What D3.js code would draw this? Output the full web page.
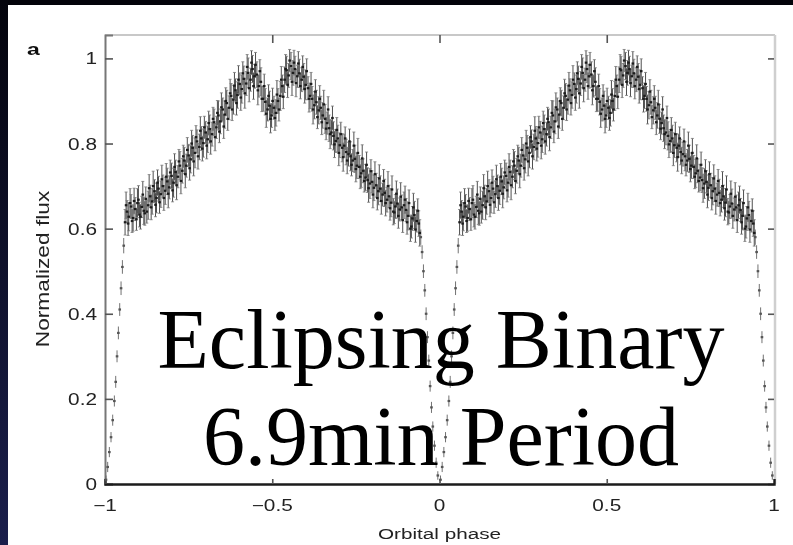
<!DOCTYPE html>
<html>
<head>
<meta charset="utf-8">
<script src="https://cdn.jsdelivr.net/npm/d3@7"></script>
<style>
  html, body { margin: 0; padding: 0; background: #000; }
  svg { display: block; }
</style>
</head>
<body>
<svg id="chart" width="793" height="545"></svg>
<script>
// Phase-folded light curve of the eclipsing binary (one orbit, phase 0..1),
// drawn twice side by side over phases -1..1.
const phase = [
  // egress
  0.003,0.008,0.013,0.018,0.023,0.028,0.032,0.036,0.040,0.044,0.048,0.052,0.056,
  // out of eclipse, first set
  0.060,0.066,0.071,0.078,0.084,0.090,0.097,0.103,0.110,0.116,
  0.122,0.129,0.135,0.141,0.148,0.154,0.160,0.167,0.173,0.180,
  0.186,0.192,0.199,0.205,0.211,0.218,0.224,0.231,0.237,0.243,
  0.250,0.256,0.262,0.269,0.275,0.282,0.288,0.294,0.301,0.307,
  0.313,0.320,0.326,0.333,0.339,0.345,0.352,0.358,0.364,0.371,
  0.377,0.384,0.390,0.396,0.403,0.409,0.415,0.422,0.428,0.435,
  0.441,0.447,0.454,0.460,0.466,0.473,0.479,0.486,0.492,0.498,
  0.505,0.511,0.517,0.524,0.530,0.537,0.543,0.549,0.556,0.562,
  0.568,0.575,0.581,0.588,0.594,0.600,0.607,0.613,0.619,0.626,
  0.632,0.639,0.645,0.651,0.658,0.664,0.670,0.677,0.683,0.690,
  0.696,0.702,0.709,0.715,0.721,0.728,0.734,0.741,0.747,0.753,
  0.760,0.766,0.772,0.779,0.785,0.792,0.798,0.804,0.811,0.817,
  0.823,0.830,0.836,0.843,0.849,0.855,0.862,0.868,0.874,0.881,
  0.887,0.894,0.900,0.906,0.913,0.919,0.925,0.932,0.938,
  // out of eclipse, second set
  0.063,0.069,0.075,0.081,0.087,0.094,0.100,0.106,0.113,0.119,
  0.125,0.132,0.138,0.144,0.151,0.157,0.163,0.170,0.176,0.183,
  0.189,0.195,0.202,0.208,0.214,0.221,0.227,0.234,0.240,0.246,
  0.253,0.259,0.265,0.272,0.278,0.285,0.291,0.297,0.304,0.310,
  0.316,0.323,0.329,0.336,0.342,0.348,0.355,0.361,0.367,0.374,
  0.380,0.387,0.393,0.399,0.406,0.412,0.418,0.425,0.431,0.438,
  0.444,0.450,0.457,0.463,0.469,0.476,0.482,0.489,0.495,0.501,
  0.508,0.514,0.520,0.527,0.533,0.540,0.546,0.552,0.559,0.565,
  0.571,0.578,0.584,0.591,0.597,0.603,0.610,0.616,0.622,0.629,
  0.635,0.642,0.648,0.654,0.661,0.667,0.673,0.680,0.686,0.693,
  0.699,0.705,0.712,0.718,0.724,0.731,0.737,0.744,0.750,0.756,
  0.763,0.769,0.775,0.782,0.788,0.795,0.801,0.807,0.814,0.820,
  0.826,0.833,0.839,0.846,0.852,0.858,0.865,0.871,0.877,0.884,
  0.890,0.897,0.903,0.909,0.916,0.922,0.928,0.935,0.941,
  // ingress
  0.944,0.948,0.952,0.956,0.960,0.964,0.968,0.972,0.976,0.980,0.985,0.990,0.995
];

const flux = [
  0.010,0.040,0.075,0.110,0.150,0.195,0.240,0.300,0.355,0.410,0.460,0.510,0.560,
  0.615,0.640,0.628,0.652,0.625,0.646,0.660,0.633,0.651,0.642,
  0.670,0.655,0.676,0.664,0.688,0.672,0.694,0.681,0.700,0.689,
  0.711,0.697,0.724,0.708,0.733,0.722,0.748,0.736,0.760,0.748,
  0.772,0.763,0.790,0.778,0.805,0.792,0.812,0.801,0.826,0.810,
  0.834,0.822,0.850,0.838,0.866,0.852,0.880,0.868,0.895,0.884,
  0.912,0.903,0.925,0.914,0.940,0.928,0.952,0.941,0.966,0.950,
  0.975,0.958,0.962,0.935,0.945,0.905,0.898,0.880,0.889,0.866,
  0.884,0.872,0.900,0.912,0.935,0.950,0.972,0.960,0.982,0.966,
  0.975,0.958,0.965,0.950,0.957,0.938,0.930,0.912,0.905,0.890,
  0.897,0.878,0.884,0.866,0.858,0.848,0.836,0.826,0.818,0.806,
  0.812,0.796,0.790,0.795,0.780,0.775,0.770,0.760,0.764,0.748,
  0.745,0.730,0.736,0.720,0.714,0.706,0.710,0.696,0.702,0.688,
  0.694,0.680,0.684,0.668,0.676,0.661,0.640,0.652,0.659,0.645,
  0.650,0.655,0.644,0.630,0.600,0.624,0.632,0.618,0.612,
  0.655,0.612,0.660,0.618,0.665,0.622,0.668,0.628,0.680,0.636,
  0.640,0.695,0.650,0.700,0.656,0.708,0.662,0.716,0.672,0.722,
  0.682,0.732,0.690,0.745,0.702,0.758,0.712,0.770,0.728,0.785,
  0.742,0.800,0.758,0.815,0.770,0.830,0.788,0.838,0.795,0.848,
  0.805,0.858,0.815,0.872,0.828,0.885,0.840,0.900,0.858,0.918,
  0.880,0.936,0.895,0.950,0.908,0.965,0.918,0.980,0.930,0.990,
  0.935,0.985,0.925,0.970,0.905,0.935,0.870,0.912,0.858,0.900,
  0.860,0.915,0.880,0.950,0.910,0.975,0.938,0.995,0.945,0.990,
  0.942,0.988,0.935,0.980,0.928,0.970,0.905,0.940,0.880,0.922,
  0.862,0.905,0.850,0.892,0.835,0.880,0.822,0.860,0.798,0.832,
  0.778,0.822,0.768,0.812,0.760,0.805,0.750,0.795,0.740,0.778,
  0.722,0.765,0.712,0.750,0.695,0.735,0.680,0.728,0.672,0.718,
  0.665,0.712,0.660,0.700,0.648,0.692,0.638,0.682,0.630,0.675,
  0.620,0.668,0.615,0.660,0.605,0.650,0.598,0.642,0.590,
  0.580,0.545,0.500,0.455,0.400,0.345,0.290,0.230,0.180,0.135,0.090,0.050,0.020
];

const fluxErr = [
  0.010,0.012,0.012,0.012,0.013,0.013,0.014,0.014,0.015,0.015,0.016,0.016,0.018,
  0.030,0.026,0.033,0.028,0.031,0.027,0.034,0.029,0.025,0.032,
  0.028,0.033,0.026,0.030,0.027,0.035,0.029,0.031,0.026,0.032,
  0.031,0.027,0.030,0.034,0.028,0.026,0.033,0.029,0.031,0.027,
  0.026,0.032,0.029,0.035,0.027,0.030,0.028,0.033,0.026,0.031,
  0.033,0.028,0.031,0.026,0.034,0.029,0.027,0.032,0.030,0.028,
  0.029,0.034,0.027,0.031,0.026,0.033,0.030,0.028,0.035,0.027,
  0.032,0.028,0.030,0.026,0.033,0.029,0.031,0.027,0.034,0.028,
  0.027,0.031,0.029,0.034,0.026,0.030,0.033,0.028,0.032,0.029,
  0.030,0.026,0.033,0.028,0.031,0.035,0.027,0.030,0.029,0.032,
  0.028,0.032,0.027,0.030,0.034,0.026,0.031,0.029,0.033,0.027,
  0.031,0.029,0.033,0.027,0.030,0.028,0.034,0.026,0.032,0.030,
  0.027,0.033,0.028,0.031,0.029,0.035,0.026,0.030,0.028,0.032,
  0.030,0.027,0.032,0.029,0.026,0.033,0.031,0.028,0.034,0.027,
  0.029,0.031,0.027,0.033,0.030,0.028,0.032,0.026,0.030,
  0.031,0.028,0.034,0.027,0.030,0.026,0.033,0.029,0.031,0.028,
  0.027,0.032,0.029,0.035,0.028,0.030,0.026,0.033,0.029,0.031,
  0.033,0.029,0.027,0.031,0.034,0.028,0.030,0.026,0.032,0.029,
  0.028,0.031,0.034,0.027,0.030,0.033,0.029,0.026,0.031,0.028,
  0.030,0.027,0.032,0.029,0.026,0.034,0.028,0.031,0.027,0.033,
  0.026,0.031,0.028,0.033,0.030,0.027,0.035,0.029,0.032,0.028,
  0.031,0.029,0.034,0.027,0.030,0.028,0.032,0.026,0.033,0.030,
  0.029,0.033,0.027,0.031,0.028,0.034,0.030,0.026,0.032,0.029,
  0.032,0.028,0.030,0.026,0.033,0.029,0.031,0.027,0.034,0.028,
  0.027,0.031,0.029,0.033,0.026,0.030,0.034,0.028,0.031,0.029,
  0.030,0.028,0.033,0.027,0.031,0.029,0.026,0.032,0.030,0.034,
  0.028,0.032,0.026,0.030,0.033,0.027,0.031,0.029,0.028,0.032,
  0.031,0.027,0.030,0.034,0.028,0.032,0.026,0.030,0.029,0.033,
  0.029,0.032,0.028,0.031,0.027,0.033,0.030,0.028,0.031,
  0.018,0.016,0.016,0.015,0.015,0.014,0.014,0.013,0.013,0.012,0.012,0.012,0.010
];

const cycleOffsets = [-1, 0];
const xTicks = [-1, -0.5, 0, 0.5, 1];
const yTicks = [0, 0.2, 0.4, 0.6, 0.8, 1];
const xInnerTicks = [-0.5, 0, 0.5];
const panelLabel = "a";
const xTitle = "Orbital phase";
const yTitle = "Normalized flux";
const overlayLines = ["Eclipsing Binary", "6.9min Period"];

const W = 793, H = 545;
const plot = { left: 105, right: 774, top: 35, bottom: 484 };

const svg = d3.select("#chart");
const defs = svg.append("defs");

// dark slide background with a blue tint on the left edge
const grad = defs.append("linearGradient")
  .attr("id", "edge").attr("x1", 0).attr("y1", 0).attr("x2", 0).attr("y2", 1);
grad.append("stop").attr("offset", "0%").attr("stop-color", "#04040c");
grad.append("stop").attr("offset", "100%").attr("stop-color", "#1b1f4c");

defs.append("filter").attr("id", "soft")
  .attr("x", "-5%").attr("y", "-5%").attr("width", "110%").attr("height", "110%")
  .append("feGaussianBlur").attr("stdDeviation", 0.7);

svg.append("rect").attr("width", W).attr("height", H).attr("fill", "#03030a");
svg.append("rect").attr("x", 0).attr("y", 0).attr("width", 8).attr("height", H)
  .attr("fill", "url(#edge)");
svg.append("rect").attr("x", 8).attr("y", 5).attr("width", W - 8).attr("height", H - 5)
  .attr("fill", "#ffffff");

const x = d3.scaleLinear().domain([-1, 1]).range([plot.left, plot.right]);
const y = d3.scaleLinear().domain([0, 1.055]).range([plot.bottom, plot.top]);

const fig = svg.append("g").attr("filter", "url(#soft)");

// frame: light top/right edges, darker left/bottom axes
fig.append("line").attr("x1", plot.left).attr("x2", plot.right + 1)
  .attr("y1", plot.top).attr("y2", plot.top)
  .attr("stroke", "#c8c8c8").attr("stroke-width", 2);
fig.append("line").attr("x1", plot.right + 1).attr("x2", plot.right + 1)
  .attr("y1", plot.top).attr("y2", plot.bottom)
  .attr("stroke", "#cfcfcf").attr("stroke-width", 2.5);

// tick marks via d3 axes (pointing inward), labels drawn separately
const axLeft = d3.axisLeft(y).tickValues(yTicks).tickSize(-8).tickFormat("");
const axRight = d3.axisRight(y).tickValues(yTicks).tickSize(-6).tickFormat("");
const axBottom = d3.axisBottom(x).tickValues(xInnerTicks).tickSize(-5).tickFormat("");
const axTop = d3.axisTop(x).tickValues(xInnerTicks).tickSize(-8).tickFormat("");

function styleAxis(g, domainColor, domainWidth, tickColor) {
  g.select(".domain").attr("stroke", domainColor).attr("stroke-width", domainWidth);
  g.selectAll(".tick line").attr("stroke", tickColor).attr("stroke-width", 1.6);
}

fig.append("g").attr("transform", `translate(${plot.right},0)`).call(axRight)
  .call(g => styleAxis(g, "none", 0, "#555"));
fig.append("g").attr("transform", `translate(0,${plot.top})`).call(axTop)
  .call(g => styleAxis(g, "none", 0, "#555"));
fig.append("g").attr("transform", `translate(${plot.left},0)`).call(axLeft)
  .call(g => styleAxis(g, "#777", 2, "#555"));
fig.append("g").attr("transform", `translate(0,${plot.bottom})`).call(axBottom)
  .call(g => styleAxis(g, "#1a1a1a", 2.4, "#555"));

// data: error bars with small point markers, two folded cycles
const pts = [];
cycleOffsets.forEach(off => {
  phase.forEach((p, i) => {
    const ph = p + off;
    if (ph >= -1 && ph <= 1) pts.push({ ph, f: flux[i], e: fluxErr[i], dip: flux[i] < 0.59 });
  });
});

const marks = fig.append("g");
marks.selectAll("line.err").data(pts).join("line").attr("class", "err")
  .attr("x1", d => x(d.ph)).attr("x2", d => x(d.ph))
  .attr("y1", d => y(Math.max(0, d.f - d.e))).attr("y2", d => y(d.f + d.e))
  .attr("stroke", d => d.dip ? "#6a6a6a" : "#444")
  .attr("stroke-width", 0.95);
marks.selectAll("line.capHi").data(pts.filter(d => !d.dip)).join("line").attr("class", "capHi")
  .attr("x1", d => x(d.ph) - 1.5).attr("x2", d => x(d.ph) + 1.5)
  .attr("y1", d => y(d.f + d.e)).attr("y2", d => y(d.f + d.e))
  .attr("stroke", "#777").attr("stroke-width", 0.8);
marks.selectAll("line.capLo").data(pts.filter(d => !d.dip)).join("line").attr("class", "capLo")
  .attr("x1", d => x(d.ph) - 1.5).attr("x2", d => x(d.ph) + 1.5)
  .attr("y1", d => y(d.f - d.e)).attr("y2", d => y(d.f - d.e))
  .attr("stroke", "#777").attr("stroke-width", 0.8);
marks.selectAll("rect.pt").data(pts).join("rect").attr("class", "pt")
  .attr("x", d => x(d.ph) - 1.3).attr("y", d => y(d.f) - 1.1)
  .attr("width", 2.6).attr("height", 2.2)
  .attr("fill", d => d.dip ? "#555" : "#1c1c1c");

// tick labels (wide sans, as in the printed figure)
const labelFont = "'Liberation Sans', Arial, sans-serif";
const fmt = v => (v < 0 ? "\u2212" : "") + String(Math.abs(v));
fig.append("g").selectAll("text").data(yTicks).join("text")
  .attr("transform", d => `translate(97,${y(d) + 6}) scale(1.3,1)`)
  .attr("text-anchor", "end")
  .attr("font-family", labelFont).attr("font-size", 16).attr("fill", "#222")
  .text(d => String(d));
fig.append("g").selectAll("text").data(xTicks).join("text")
  .attr("transform", d => `translate(${x(d)},511) scale(1.3,1)`)
  .attr("text-anchor", "middle")
  .attr("font-family", labelFont).attr("font-size", 16).attr("fill", "#222")
  .text(fmt);

fig.append("text")
  .attr("transform", `translate(${x(0)},539) scale(1.38,1)`)
  .attr("text-anchor", "middle")
  .attr("font-family", labelFont).attr("font-size", 15).attr("fill", "#222")
  .text(xTitle);
fig.append("text")
  .attr("transform", `translate(49,269) rotate(-90) scale(1.42,1.1)`)
  .attr("text-anchor", "middle")
  .attr("font-family", labelFont).attr("font-size", 16).attr("fill", "#222")
  .text(yTitle);
fig.append("text")
  .attr("transform", "translate(27,55) scale(1.35,1)")
  .attr("font-family", labelFont).attr("font-size", 17).attr("font-weight", "bold")
  .attr("fill", "#111")
  .text(panelLabel);

// caption laid over the plot
svg.append("g").selectAll("text").data(overlayLines).join("text")
  .attr("x", 441).attr("y", (d, i) => 368 + i * 97)
  .attr("text-anchor", "middle")
  .attr("font-family", "'Liberation Serif', 'Times New Roman', serif")
  .attr("font-size", 84).attr("fill", "#000")
  .text(d => d);
</script>
</body>
</html>
